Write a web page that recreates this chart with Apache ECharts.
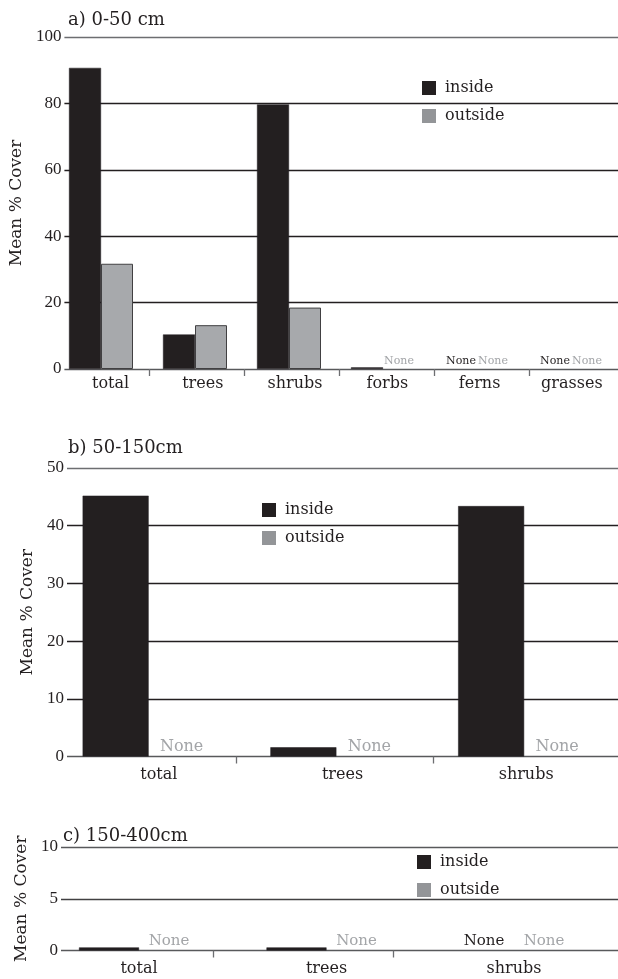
<!DOCTYPE html>
<html><head><meta charset="utf-8">
<script src="https://cdn.jsdelivr.net/npm/echarts@6/dist/echarts.min.js"></script>
<style>html,body{margin:0;padding:0;background:#fff}#c{width:618px;height:979px}</style>
</head><body><div id="c"></div>
<script>
// ---------- data ----------
const catsA = ['total', 'trees', 'shrubs', 'forbs', 'ferns', 'grasses'];
const insideA = [90.7, 10.4, 79.7, 0.5, null, null];   // null = "None"
const outsideA = [31.7, 13.2, 18.5, null, null, null];
const yTicksA = [0, 20, 40, 60, 80, 100];

const catsB = ['total', 'trees', 'shrubs'];
const insideB = [45.2, 1.6, 43.4];
const outsideB = [null, null, null];
const yTicksB = [0, 10, 20, 30, 40, 50];

const catsC = ['total', 'trees', 'shrubs'];
const insideC = [0.3, 0.3, null];
const outsideC = [null, null, null];
const yTicksC = [0, 5, 10];

const seriesNames = ['inside', 'outside'];
const titles = ['a) 0-50 cm', 'b) 50-150cm', 'c) 150-400cm'];
const yName = 'Mean % Cover';
const noneText = 'None';

// ---------- styles / layout ----------
const DARK = '#231f20', BAR_GRAY = '#a7a9ac', LEG_GRAY = '#939598', NONE_GRAY = '#a3a5a8';
const SERIF = 'DejaVu Serif, serif';
const NUMF = 'Liberation Serif, serif';

const panels = [
  {cats: catsA, ins: insideA, outs: outsideA, yT: yTicksA, top: 37, h: 332, frameLeft: 61,
   bars: {left: 54, width: 570}, ticks: {left: 101.5, width: 475}, barW: 32, labelsOnFrame: true,
   labelMargin: 7, noneSize: 11, nameGap: 24, titleLeft: 63, titleTop: 4, legend: {left: 417, top: 75},
   lineColors: ['#58595b', DARK, DARK, DARK, DARK, '#6d6e71']},
  {cats: catsB, ins: insideB, outs: outsideB, yT: yTicksB, top: 468, h: 288.5, frameLeft: 67,
   bars: {left: 54.75, width: 583.5}, ticks: {left: 137.5, width: 394}, barW: 66, labelsOnFrame: true,
   labelMargin: 10, noneSize: 16, nameGap: 30, titleLeft: 63, titleTop: 432, legend: {left: 257, top: 497},
   lineColors: ['#58595b', DARK, DARK, DARK, DARK, '#6d6e71']},
  {cats: catsC, ins: insideC, outs: outsideC, yT: yTicksC, top: 847, h: 103.5, frameLeft: 61,
   bars: {left: 45.25, width: 562.5}, ticks: {left: 122.8, width: 360.8}, barW: 60, labelsOnFrame: false,
   labelMargin: 10, noneSize: 15, nameGap: 24, titleLeft: 58, titleTop: 820, legend: {left: 412, top: 849},
   lineColors: ['#58595b', '#414042', '#58595b']}
];

const grid = [], xAxis = [], yAxis = [], series = [], legend = [], title = [];

function toData(arr, noneColor, size) {
  return arr.map(v => v === null ? {
    value: 0, itemStyle: {borderWidth: 0},
    label: {show: true, position: 'top', distance: 2, formatter: noneText, color: noneColor,
            fontFamily: SERIF, fontSize: size}
  } : v);
}

panels.forEach((p, i) => {
  const g0 = grid.length;
  const yMin = p.yT[0], yMax = p.yT[p.yT.length - 1], yInt = p.yT[1] - p.yT[0];
  grid.push({left: p.frameLeft, right: 0, top: p.top, height: p.h});
  grid.push({left: p.bars.left, width: p.bars.width, top: p.top, height: p.h});
  grid.push({left: p.ticks.left, width: p.ticks.width, top: p.top, height: p.h});

  const catLabel = {interval: 0, margin: p.labelMargin, fontFamily: SERIF, fontSize: 16, color: DARK};
  xAxis.push({type: 'category', gridIndex: g0, data: p.cats, axisLine: {show: false}, axisTick: {show: false},
    axisLabel: Object.assign({show: p.labelsOnFrame}, catLabel), splitLine: {show: false}});
  yAxis.push({type: 'value', gridIndex: g0, min: yMin, max: yMax, interval: yInt,
    axisLine: {show: false}, axisTick: {show: false},
    axisLabel: {margin: 3, fontFamily: NUMF, fontSize: 17, color: DARK},
    splitLine: {show: true, lineStyle: {color: p.lineColors, width: 1.3}},
    name: yName, nameLocation: 'middle', nameGap: p.nameGap,
    nameTextStyle: {fontFamily: SERIF, fontSize: 17, color: DARK}});

  xAxis.push({type: 'category', gridIndex: g0 + 1, data: p.cats, axisLine: {show: false}, axisTick: {show: false},
    axisLabel: Object.assign({show: !p.labelsOnFrame}, catLabel), splitLine: {show: false}});
  yAxis.push({type: 'value', gridIndex: g0 + 1, min: yMin, max: yMax, show: false});

  xAxis.push({type: 'category', gridIndex: g0 + 2, data: p.cats.slice(1), axisLine: {show: false},
    axisLabel: {show: false}, splitLine: {show: false},
    axisTick: {show: true, interval: 0, alignWithLabel: true, length: 7, lineStyle: {color: '#6d6e71', width: 1.3}}});
  yAxis.push({type: 'value', gridIndex: g0 + 2, min: 0, max: 1, show: false});

  series.push({name: seriesNames[0], type: 'bar', xAxisIndex: g0 + 1, yAxisIndex: g0 + 1,
    barWidth: p.barW, barGap: '0%', data: toData(p.ins, DARK, p.noneSize),
    itemStyle: {color: DARK, borderColor: DARK, borderWidth: 0.5}});
  series.push({name: seriesNames[1], type: 'bar', xAxisIndex: g0 + 1, yAxisIndex: g0 + 1,
    barWidth: p.barW, barGap: '0%', data: toData(p.outs, NONE_GRAY, p.noneSize),
    itemStyle: {color: BAR_GRAY, borderColor: '#414042', borderWidth: 1}});

  legend.push({orient: 'vertical', left: p.legend.left, top: p.legend.top, itemWidth: 14, itemHeight: 14,
    itemGap: 12, icon: 'rect', selectedMode: false,
    data: [{name: seriesNames[0], itemStyle: {color: DARK, borderWidth: 0}},
           {name: seriesNames[1], itemStyle: {color: LEG_GRAY, borderWidth: 0}}],
    textStyle: {fontFamily: SERIF, fontSize: 16, color: DARK, padding: [0, 0, 0, 4]}});

  title.push({text: titles[i], left: p.titleLeft, top: p.titleTop,
    textStyle: {fontFamily: SERIF, fontSize: 18, fontWeight: 'normal', color: DARK, lineHeight: 22}});
});

const chart = echarts.init(document.getElementById('c'), null, {renderer: 'canvas'});
chart.setOption({backgroundColor: '#fff', animation: false, title, grid, xAxis, yAxis, series, legend});
</script></body></html>
